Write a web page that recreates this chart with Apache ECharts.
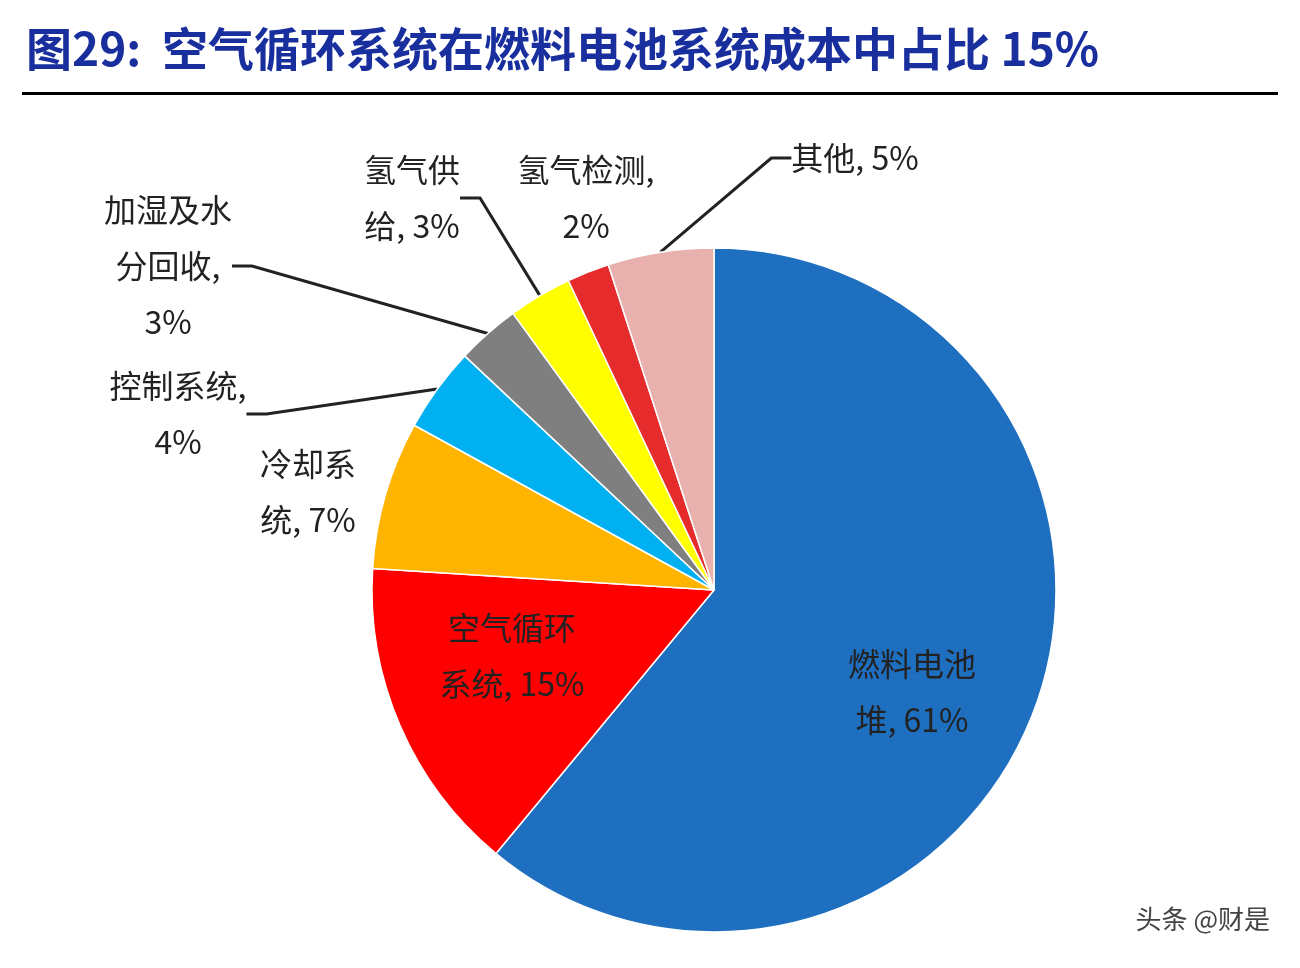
<!DOCTYPE html>
<html><head><meta charset="utf-8">
<script src="https://cdn.jsdelivr.net/npm/echarts@6/dist/echarts.min.js"></script>
<style>html,body{margin:0;background:#fff}#c{width:1300px;height:968px}</style>
</head><body><div id="c"></div>
<script>
// 燃料电池系统成本构成
const names = ["燃料电池堆", "空气循环系统", "冷却系统", "控制系统", "加湿及水分回收", "氢气供给", "氢气检测", "其他"];
const values = [61, 15, 7, 4, 3, 3, 2, 5];
const labelTexts = ["燃料电池\n堆, 61%", "空气循环\n系统, 15%", "冷却系\n统, 7%", "控制系统,\n4%", "加湿及水\n分回收,\n3%", "氢气供\n给, 3%", "氢气检测,\n2%", "其他, 5%"];
const colors = ["#1f6fc0", "#ff0000", "#ffb400", "#00b0f0", "#7f7f7f", "#ffff00", "#e52b2b", "#e9b1ad"];
// label anchor spots (top-centre of text block)
const labelPos = [
  [912, 636], [512, 600], [308, 436], [178, 358], [168, 182], [412, 142], [586, 142], [855, 130]
];

const chart = echarts.init(document.getElementById("c"));
chart.setOption({
  graphic: [
    { type: "text", left: 26, top: 26, style: { text: "图29:  空气循环系统在燃料电池系统成本中占比 15%", font: "bold 46px 'Noto Sans CJK SC'", fill: "#1a2f9e" } },
    { type: "rect", shape: { x: 22, y: 92, width: 1256, height: 3 }, style: { fill: "#000" } },
    { type: "text", right: 30, top: 906, style: { text: "头条 @财是", font: "26px 'Noto Sans CJK SC'", fill: "#444" } }
  ],
  series: [{
    type: "pie",
    center: [714, 590],
    radius: 342,
    startAngle: 90,
    clockwise: true,
    itemStyle: { borderColor: "#fff", borderWidth: 1.5 },
    label: { fontFamily: "Noto Sans CJK SC", fontSize: 32, color: "#222", lineHeight: 56, align: "center" },
    labelLine: { show: true, lineStyle: { color: "#222", width: 3 }, length: 20, length2: 20 },
    labelLayout: function (p) {
      const pos = labelPos[p.dataIndex];
      return { x: pos[0], y: pos[1], align: "center", verticalAlign: "top" };
    },
    data: names.map((n, i) => ({
      name: n, value: values[i],
      itemStyle: { color: colors[i] },
      label: { formatter: labelTexts[i], position: i < 2 ? "inside" : "outside" },
      labelLine: { show: i >= 3 && i !== 6 }
    }))
  }]
});
</script></body></html>
